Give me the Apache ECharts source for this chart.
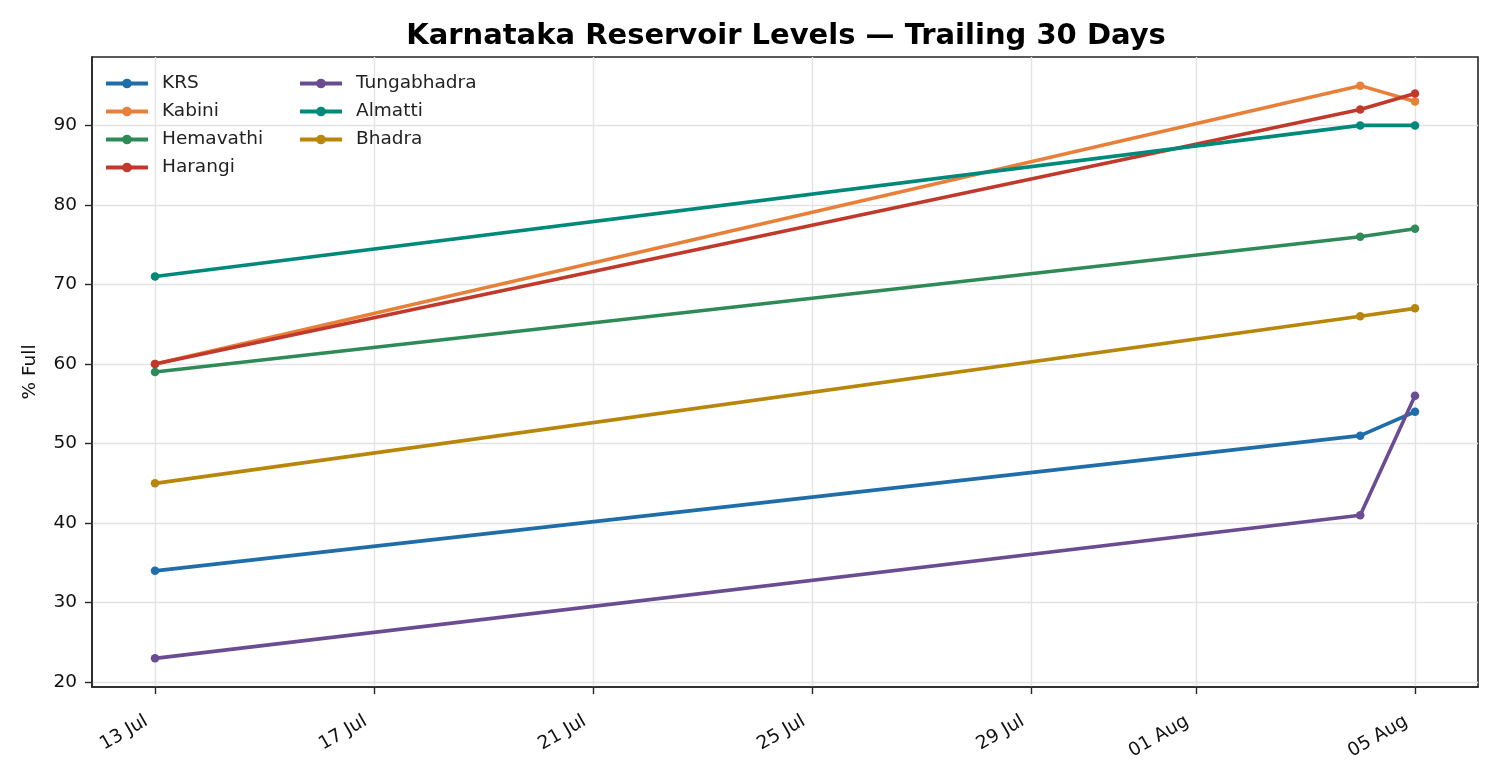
<!DOCTYPE html>
<html>
<head>
<meta charset="utf-8">
<script src="https://cdn.jsdelivr.net/npm/echarts@6/dist/echarts.min.js"></script>
<style>
  html, body { margin: 0; padding: 0; background: #fff; }
  #chart { width: 1500px; height: 780px; }
</style>
</head>
<body>
<div id="chart"></div>
<script>
// dates of the readings, and % full per reservoir
var dates = ["2024-07-13", "2024-08-04", "2024-08-05"];
var names = ["KRS", "Kabini", "Hemavathi", "Harangi", "Tungabhadra", "Almatti", "Bhadra"];
var krs = [34, 51, 54];
var kabini = [60, 95, 93];
var hemavathi = [59, 76, 77];
var harangi = [60, 92, 94];
var tungabhadra = [23, 41, 56];
var almatti = [71, 90, 90];
var bhadra = [45, 66, 67];
var colors = ["#1f6eaa", "#e8803a", "#2e8b57", "#c0392b", "#6a4c93", "#00897b", "#b8860b"];

var xTickDates = ["2024-07-13", "2024-07-17", "2024-07-21", "2024-07-25", "2024-07-29", "2024-08-01", "2024-08-05"];
var yTicks = [20, 30, 40, 50, 60, 70, 80, 90];
var months = ["Jan", "Feb", "Mar", "Apr", "May", "Jun", "Jul", "Aug", "Sep", "Oct", "Nov", "Dec"];

var DAY = 86400000;
var base = Date.parse(dates[0]);
function dayOf(s) { return (Date.parse(s) - base) / DAY; }
function label(d) {
  var t = new Date(base + Math.round(d) * DAY);
  var dd = t.getUTCDate();
  return (dd < 10 ? "0" + dd : dd) + " " + months[t.getUTCMonth()];
}

var values = [krs, kabini, hemavathi, harangi, tungabhadra, almatti, bhadra];
var xs = dates.map(dayOf);
var xTicks = xTickDates.map(dayOf);

var series = names.map(function (n, i) {
  return {
    name: n,
    type: "line",
    data: values[i].map(function (v, j) { return [xs[j], v]; }),
    symbol: "circle",
    symbolSize: 8.5,
    lineStyle: { width: 3.6, color: colors[i] },
    itemStyle: { color: colors[i] },
    emphasis: { disabled: true },
    animation: false
  };
});

// axis limits with matplotlib-like 5% margins
var allY = [].concat.apply([], values);
var yMin = Math.min.apply(null, allY), yMax = Math.max.apply(null, allY);
var yPad = (yMax - yMin) * 0.05;
var xMin = Math.min.apply(null, xs), xMax = Math.max.apply(null, xs);
var xPad = (xMax - xMin) * 0.05;

var font = "DejaVu Sans";
var legendText = { fontFamily: font, fontSize: 18.5, color: "#222", padding: [0, 0, 0, 9] };

var chart = echarts.init(document.getElementById("chart"), null, { renderer: "canvas" });
chart.setOption({
  backgroundColor: "#fff",
  animation: false,
  title: {
    text: "Karnataka Reservoir Levels \u2014 Trailing 30 Days",
    left: 781,
    top: 17,
    textAlign: "center",
    textStyle: { fontFamily: font, fontSize: 29, fontWeight: "bold", color: "#000" }
  },
  legend: [
    {
      data: names.slice(0, 4),
      orient: "vertical",
      left: 99,
      top: 69,
      itemWidth: 42,
      itemHeight: 12,
      itemGap: 9,
      lineStyle: { width: 4 },
      textStyle: legendText
    },
    {
      data: names.slice(4),
      orient: "vertical",
      left: 293,
      top: 69,
      itemWidth: 42,
      itemHeight: 12,
      itemGap: 9,
      lineStyle: { width: 4 },
      textStyle: legendText
    }
  ],
  grid: {
    left: 92, right: 22, top: 57, bottom: 93,
    show: true, borderColor: "#262626", borderWidth: 1.6, backgroundColor: "transparent"
  },
  xAxis: {
    type: "value",
    min: xMin - xPad,
    max: xMax + xPad,
    axisLine: { show: true, onZero: false, lineStyle: { color: "#262626", width: 1.6 } },
    axisTick: { show: true, customValues: xTicks, length: 7, lineStyle: { color: "#262626", width: 1.4 } },
    axisLabel: {
      customValues: xTicks,
      rotate: 30,
      margin: 28,
      padding: [0, 10, 0, 0],
      fontFamily: font,
      fontSize: 18.5,
      color: "#111",
      formatter: function (v) { return label(v); }
    },
    splitLine: { show: true, lineStyle: { color: "#e3e3e3", width: 1.4 } }
  },
  yAxis: {
    type: "value",
    min: yMin - yPad,
    max: yMax + yPad,
    name: "% Full",
    nameLocation: "middle",
    nameGap: 52,
    nameTextStyle: { fontFamily: font, fontSize: 18.5, color: "#111" },
    axisLine: { show: true, onZero: false, lineStyle: { color: "#262626", width: 1.6 } },
    axisTick: { show: true, customValues: yTicks, length: 7, lineStyle: { color: "#262626", width: 1.4 } },
    axisLabel: {
      customValues: yTicks,
      margin: 15,
      fontFamily: font,
      fontSize: 18.5,
      color: "#111"
    },
    splitLine: { show: true, lineStyle: { color: "#e3e3e3", width: 1.4 } }
  },
  series: series
});
</script>
</body>
</html>
